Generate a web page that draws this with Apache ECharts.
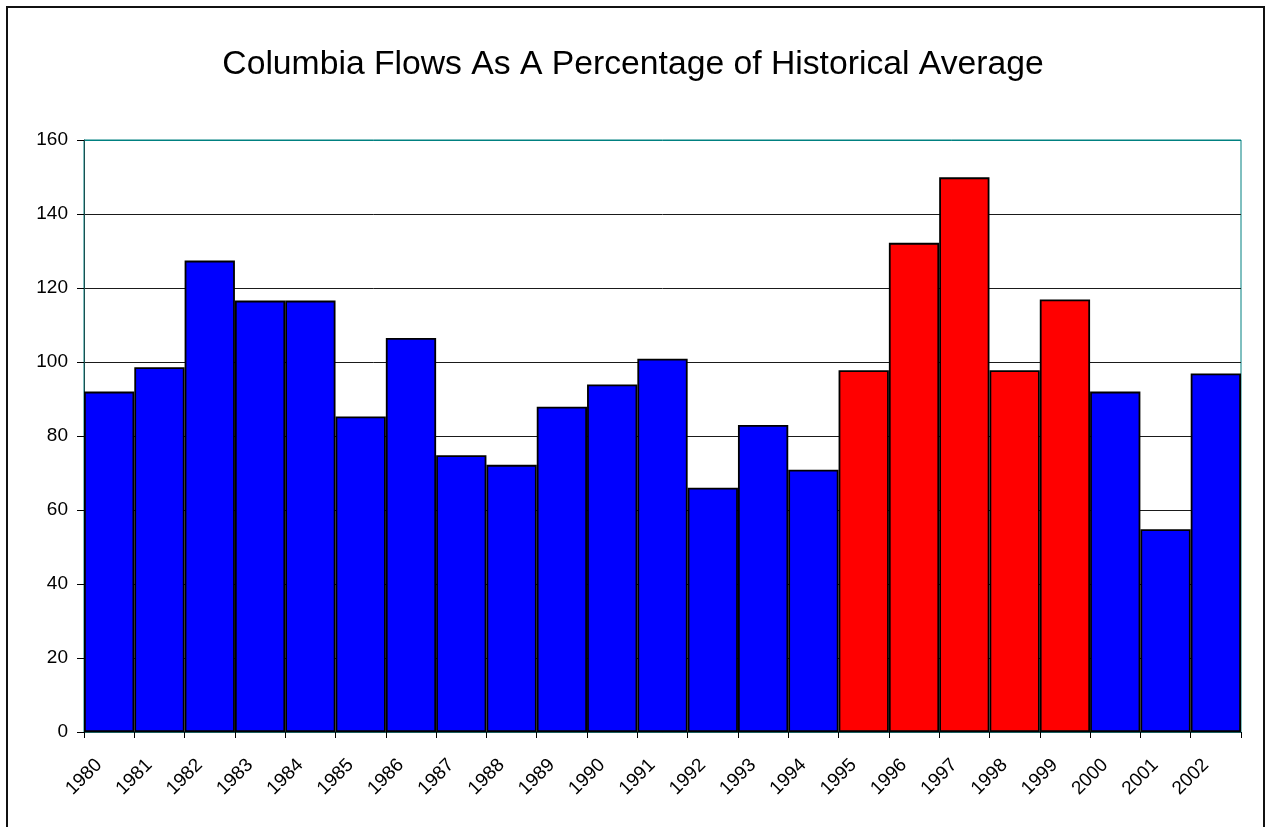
<!DOCTYPE html>
<html>
<head>
<meta charset="utf-8">
<style>
  html, body { margin: 0; padding: 0; background: #fff; }
  #chart { width: 1266px; height: 827px; }
</style>
<script src="https://cdn.jsdelivr.net/npm/echarts@6/dist/echarts.min.js"></script>
</head>
<body>
<div id="chart"></div>
<script>
// Columbia River flow, percent of the historical average, by water year
const years = ['1980','1981','1982','1983','1984','1985','1986','1987','1988','1989','1990','1991',
               '1992','1993','1994','1995','1996','1997','1998','1999','2000','2001','2002'];
const flowPct = [92, 98.6, 127.4, 116.6, 116.6, 85.3, 106.5, 74.8, 72.2, 87.9, 93.9, 100.9,
                 66, 83, 70.9, 97.8, 132.2, 149.9, 97.8, 116.9, 92, 54.8, 96.9];
// Years drawn in red
const highlightYears = ['1995','1996','1997','1998','1999'];
const yTicks = [0, 20, 40, 60, 80, 100, 120, 140, 160];

const BLUE = '#0000ff';
const RED = '#ff0000';
const TEAL = '#008080';
const FONT = "'Liberation Sans', Arial, sans-serif";

const plot = { left: 84, top: 140, width: 1157, height: 592 };

const chart = echarts.init(document.getElementById('chart'), null, { renderer: 'canvas' });

chart.setOption({
  animation: false,
  backgroundColor: '#fff',
  title: {
    text: 'Columbia Flows As A Percentage of Historical Average',
    left: 'center',
    top: 43,
    textStyle: { fontFamily: FONT, fontSize: 33.7, fontWeight: 'normal', color: '#000' }
  },
  graphic: [{
    type: 'rect',
    shape: { x: 7, y: 7, width: 1257, height: 840 },
    style: { fill: 'none', stroke: '#111', lineWidth: 2 },
    silent: true
  }],
  grid: [
    { left: plot.left, top: plot.top, width: plot.width, height: plot.height,
      show: true, borderColor: TEAL, borderWidth: 1, backgroundColor: 'transparent' },
    // year labels sit at the category boundaries, nudged right like the rotated labels
    { left: plot.left + 15, top: plot.top, width: plot.width, height: plot.height }
  ],
  xAxis: [
    {
      type: 'category',
      gridIndex: 0,
      data: years,
      boundaryGap: true,
      axisLine: { show: true, lineStyle: { color: '#1b5e5e', width: 1 } },
      axisTick: { show: true, interval: 0, length: 6, lineStyle: { color: '#000' } },
      axisLabel: { show: false }
    },
    {
      type: 'category',
      gridIndex: 1,
      data: years.concat(['']),
      boundaryGap: false,
      axisLine: { show: false },
      axisTick: { show: false },
      axisLabel: {
        show: true, interval: 0, rotate: 45, margin: 30,
        fontFamily: FONT, fontSize: 19, color: '#000'
      }
    }
  ],
  yAxis: [
    {
      type: 'value',
      gridIndex: 0,
      min: 0, max: 160, interval: 20,
      axisLine: { show: true, lineStyle: { color: '#1b4f4f' } },
      axisTick: { show: true, length: 7, lineStyle: { color: '#000' } },
      axisLabel: {
        margin: 16, fontFamily: FONT, fontSize: 19, color: '#000',
        formatter: v => yTicks.includes(v) ? String(v) : ''
      },
      splitLine: {
        show: true,
        lineStyle: { color: yTicks.map((t, i) => i === yTicks.length - 1 ? TEAL : '#1a1a1a'), width: 1 }
      }
    },
    { type: 'value', gridIndex: 1, show: false, min: 0, max: 160 }
  ],
  series: [{
    type: 'bar',
    xAxisIndex: 0,
    yAxisIndex: 0,
    barCategoryGap: 0,
    barGap: 0,
    data: flowPct.map((v, i) => ({
      value: v,
      itemStyle: { color: highlightYears.includes(years[i]) ? RED : BLUE }
    })),
    itemStyle: { borderColor: '#000', borderWidth: 1.8 }
  }]
});
</script>
</body>
</html>
